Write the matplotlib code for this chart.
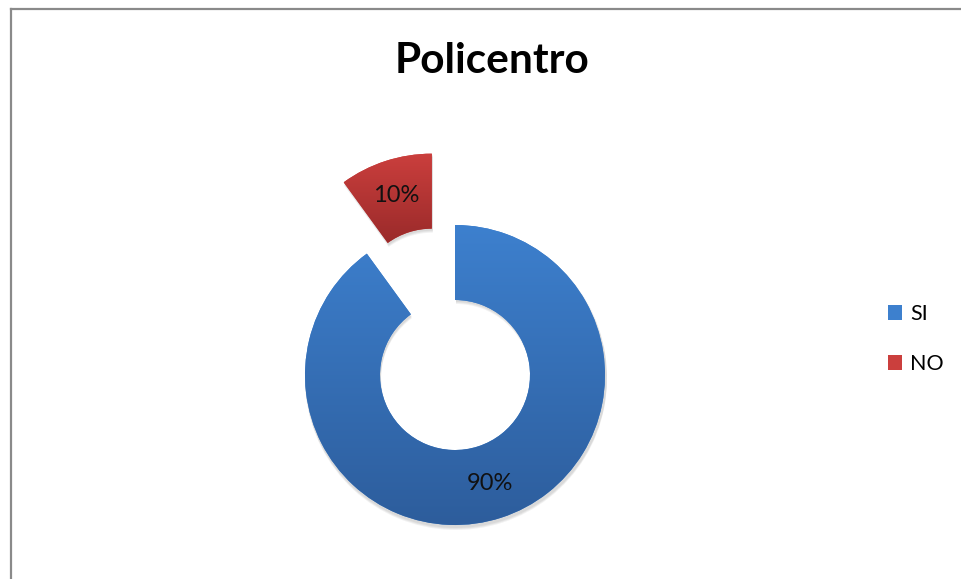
import numpy as np
import matplotlib
matplotlib.use("Agg")
import matplotlib.pyplot as plt
from matplotlib.colors import LinearSegmentedColormap
from matplotlib.lines import Line2D
from matplotlib.patches import Patch

title = "Policentro"
categories = ["SI", "NO"]
values = [90, 10]
top_colors = ["#3d80ce", "#cb3f3d"]
bottom_colors = ["#2d5d9c", "#9a2a2a"]

plt.rcParams["font.family"] = ["Lato", "DejaVu Sans"]

W, H = 961, 579
fig = plt.figure(figsize=(W / 100, H / 100), dpi=100)
ax = fig.add_axes([0, 0, 1, 1])

cx, cy = 455, H - 375
R = 150

# soft shadow under the ring
for k, a in enumerate([0.05, 0.05, 0.05]):
    sh, _ = ax.pie(values, radius=R + 1, center=(cx + 1, cy - 2 - k),
                   startangle=90, counterclock=False, explode=[0, 75],
                   wedgeprops=dict(width=76, linewidth=0, facecolor="#000000", alpha=a),
                   frame=True)
    for w in sh:
        w.set_zorder(0.5)

wedges, texts, autotexts = ax.pie(
    values, radius=R, center=(cx, cy), startangle=90, counterclock=False,
    explode=[0, 75], colors=top_colors, autopct="%d%%", pctdistance=0.76,
    wedgeprops=dict(width=75, linewidth=0), frame=True,
    textprops=dict(fontsize=17, color="#111111"))
ax.set_xlim(0, W)
ax.set_ylim(0, H)
ax.axis("off")

# vertical gradient fill clipped to each wedge
for w, c1, c2 in zip(wedges, top_colors, bottom_colors):
    cmap = LinearSegmentedColormap.from_list("g", [c2, c1])
    bb = w.get_path().get_extents(w.get_patch_transform())
    grad = np.linspace(0, 1, 256).reshape(-1, 1)
    im = ax.imshow(grad, cmap=cmap, origin="lower", aspect="auto",
                   extent=[bb.x0, bb.x1, bb.y0, bb.y1], zorder=2)
    im.set_clip_path(w)
for t in autotexts:
    t.set_zorder(5)

fig.text(492 / W, 1 - 61 / H, title, ha="center", va="center",
         fontsize=30.5, fontweight="bold", color="#000000")

handles = [Patch(facecolor=c, edgecolor="none") for c in top_colors]
fig.legend(handles, categories, loc="center left",
           bbox_to_anchor=(888 / W, 1 - 339 / H), frameon=False,
           fontsize=15.5, handlelength=0.65, handleheight=0.65,
           handletextpad=0.37, labelspacing=1.4, borderpad=0, borderaxespad=0)

# chart area frame
fig.add_artist(Line2D([11 / W, 11 / W], [0, 1 - 8.5 / H], transform=fig.transFigure,
                      color="#8a8a8a", linewidth=1.6))
fig.add_artist(Line2D([11 / W, 1], [1 - 8.5 / H, 1 - 8.5 / H], transform=fig.transFigure,
                      color="#8a8a8a", linewidth=1.6))

fig.savefig("out.png", dpi=100)
